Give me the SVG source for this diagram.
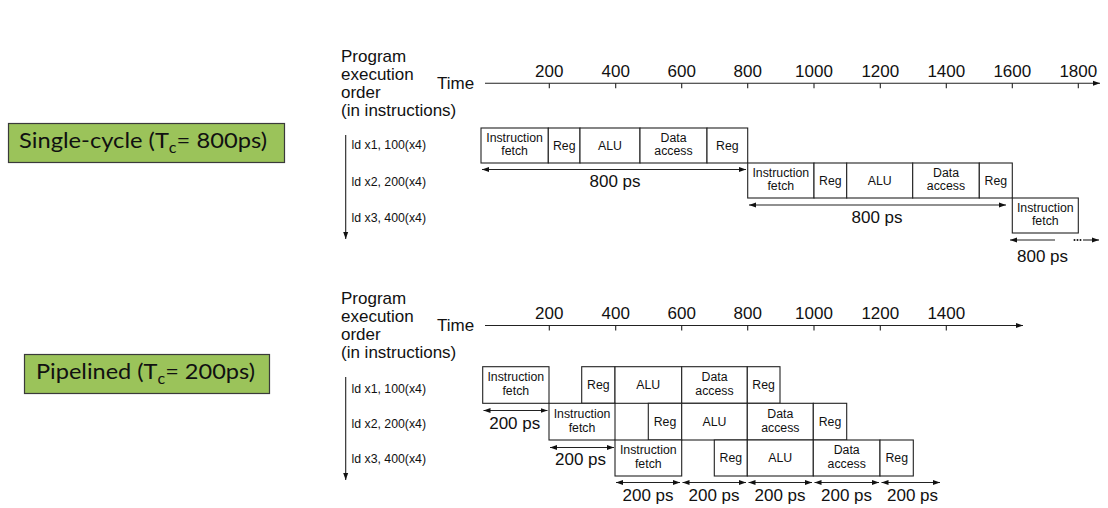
<svg xmlns="http://www.w3.org/2000/svg" width="1108" height="508" viewBox="0 0 1108 508">
<defs>
<marker id="ah" markerUnits="userSpaceOnUse" markerWidth="8" markerHeight="6" refX="7" refY="3" orient="auto-start-reverse"><path d="M0,0.5 L7,3 L0,5.5 z" fill="#111"/></marker>
<style>
.t{font-family:"Liberation Sans",Arial,sans-serif;fill:#111}
.lg{font-size:17px}
.sm{font-size:12.3px}
.bx{fill:#fff;stroke:#222;stroke-width:1.1}
.ln{stroke:#222;stroke-width:1.1;fill:none}
.ar{stroke:#222;stroke-width:1.1;fill:none;marker-start:url(#ah);marker-end:url(#ah)}
.ae{stroke:#222;stroke-width:1.1;fill:none;marker-end:url(#ah)}
.lab{fill:#9BC35A;stroke:#3a3a3a;stroke-width:1.2}
.lt{font-family:Lato,"Open Sans",sans-serif;font-size:22px;fill:#111}
</style>
</defs>
<rect width="1108" height="508" fill="#fff"/>

<g id="label-single">
<rect class="lab" x="8.5" y="123.5" width="276" height="39"/>
<text class="lt" x="19" y="147.5" textLength="248" lengthAdjust="spacingAndGlyphs">Single-cycle (T<tspan font-size="15" dy="5">c</tspan><tspan dy="-5">= 800ps)</tspan></text>
</g>
<g id="label-pipelined">
<rect class="lab" x="24.5" y="354.5" width="245" height="39"/>
<text class="lt" x="36" y="378.5" textLength="219" lengthAdjust="spacingAndGlyphs">Pipelined (T<tspan font-size="15" dy="5">c</tspan><tspan dy="-5">= 200ps)</tspan></text>
</g>

<g id="top-axis">
<text class="t lg" x="341" y="62">Program</text>
<text class="t lg" x="341" y="80">execution</text>
<text class="t lg" x="341" y="98">order</text>
<text class="t lg" x="341" y="116">(in instructions)</text>
<text class="t lg" x="437" y="88.5">Time</text>
<g text-anchor="middle">
<text class="t lg" x="549.3" y="77">200</text>
<text class="t lg" x="615.7" y="77">400</text>
<text class="t lg" x="681.7" y="77">600</text>
<text class="t lg" x="747.7" y="77">800</text>
<text class="t lg" x="814" y="77">1000</text>
<text class="t lg" x="880.3" y="77">1200</text>
<text class="t lg" x="946.3" y="77">1400</text>
<text class="t lg" x="1012.3" y="77">1600</text>
<text class="t lg" x="1078.3" y="77">1800</text>
</g>
<text class="t sm" x="351.5" y="149.3">ld x1, 100(x4)</text>
<text class="t sm" x="351.5" y="186">ld x2, 200(x4)</text>
<text class="t sm" x="351.5" y="222">ld x3, 400(x4)</text>
</g>

<g id="bottom-axis">
<text class="t lg" x="341" y="304">Program</text>
<text class="t lg" x="341" y="322">execution</text>
<text class="t lg" x="341" y="340">order</text>
<text class="t lg" x="341" y="358">(in instructions)</text>
<text class="t lg" x="437" y="330.5">Time</text>
<g text-anchor="middle">
<text class="t lg" x="549.3" y="319">200</text>
<text class="t lg" x="615.7" y="319">400</text>
<text class="t lg" x="681.7" y="319">600</text>
<text class="t lg" x="747.7" y="319">800</text>
<text class="t lg" x="814" y="319">1000</text>
<text class="t lg" x="880.3" y="319">1200</text>
<text class="t lg" x="946.3" y="319">1400</text>
</g>
<text class="t sm" x="351.5" y="392.5">ld x1, 100(x4)</text>
<text class="t sm" x="351.5" y="427.5">ld x2, 200(x4)</text>
<text class="t sm" x="351.5" y="463">ld x3, 400(x4)</text>
</g>

<g id="single-row1" class="t sm" text-anchor="middle">
<rect class="bx" x="481" y="128" width="67.3" height="35"/>
<text x="514.6" y="141.5">Instruction</text><text x="514.6" y="155">fetch</text>
<rect class="bx" x="548.3" y="128" width="31.7" height="35"/>
<text x="564.2" y="149.5">Reg</text>
<rect class="bx" x="580" y="128" width="60" height="35"/>
<text x="610" y="149.5">ALU</text>
<rect class="bx" x="640" y="128" width="67" height="35"/>
<text x="673.5" y="141.5">Data</text><text x="673.5" y="155">access</text>
<rect class="bx" x="707" y="128" width="40.7" height="35"/>
<text x="727.3" y="149.5">Reg</text>
</g>
<g id="single-row2" class="t sm" text-anchor="middle">
<rect class="bx" x="747.7" y="163" width="66.3" height="35"/>
<text x="780.8" y="176.5">Instruction</text><text x="780.8" y="190">fetch</text>
<rect class="bx" x="814" y="163" width="32.7" height="35"/>
<text x="830.3" y="184.5">Reg</text>
<rect class="bx" x="846.7" y="163" width="66" height="35"/>
<text x="879.7" y="184.5">ALU</text>
<rect class="bx" x="912.7" y="163" width="66.6" height="35"/>
<text x="946" y="176.5">Data</text><text x="946" y="190">access</text>
<rect class="bx" x="979.3" y="163" width="33" height="35"/>
<text x="995.8" y="184.5">Reg</text>
</g>
<g id="single-row3" class="t sm" text-anchor="middle">
<rect class="bx" x="1012.3" y="198" width="66" height="35"/>
<text x="1045.3" y="211.5">Instruction</text><text x="1045.3" y="225">fetch</text>
</g>

<g id="pipe-row1" class="t sm" text-anchor="middle">
<rect class="bx" x="482.7" y="366.7" width="66.3" height="36.6"/>
<text x="515.8" y="381">Instruction</text><text x="515.8" y="395">fetch</text>
<rect class="bx" x="581.7" y="366.7" width="33.3" height="36.6"/>
<text x="598.3" y="389">Reg</text>
<rect class="bx" x="615" y="366.7" width="66.7" height="36.6"/>
<text x="648.3" y="389">ALU</text>
<rect class="bx" x="681.7" y="366.7" width="65.6" height="36.6"/>
<text x="714.5" y="381">Data</text><text x="714.5" y="395">access</text>
<rect class="bx" x="747.3" y="366.7" width="32.7" height="36.6"/>
<text x="763.6" y="389">Reg</text>
</g>
<g id="pipe-row2" class="t sm" text-anchor="middle">
<rect class="bx" x="549" y="403.3" width="66" height="36.7"/>
<text x="582" y="417.5">Instruction</text><text x="582" y="431.5">fetch</text>
<rect class="bx" x="648.3" y="403.3" width="33.4" height="36.7"/>
<text x="665" y="425.5">Reg</text>
<rect class="bx" x="681.7" y="403.3" width="65.6" height="36.7"/>
<text x="714.5" y="425.5">ALU</text>
<rect class="bx" x="747.3" y="403.3" width="66" height="36.7"/>
<text x="780.3" y="417.5">Data</text><text x="780.3" y="431.5">access</text>
<rect class="bx" x="813.3" y="403.3" width="33.4" height="36.7"/>
<text x="830" y="425.5">Reg</text>
</g>
<g id="pipe-row3" class="t sm" text-anchor="middle">
<rect class="bx" x="615" y="440" width="66.7" height="36"/>
<text x="648.3" y="454">Instruction</text><text x="648.3" y="468">fetch</text>
<rect class="bx" x="714.3" y="440" width="33" height="36"/>
<text x="730.8" y="462">Reg</text>
<rect class="bx" x="747.3" y="440" width="66" height="36"/>
<text x="780.3" y="462">ALU</text>
<rect class="bx" x="813.3" y="440" width="66.7" height="36"/>
<text x="846.7" y="454">Data</text><text x="846.7" y="468">access</text>
<rect class="bx" x="880" y="440" width="33.3" height="36"/>
<text x="896.7" y="462">Reg</text>
</g>

<g id="connectors">
<line class="ae" x1="485" y1="83.3" x2="1100" y2="83.3"/>
<path class="ln" d="M549.3,83.3V88.3M615.7,83.3V88.3M681.7,83.3V88.3M747.7,83.3V88.3M814,83.3V88.3M880.3,83.3V88.3M946.3,83.3V88.3M1012.3,83.3V88.3M1078.3,83.3V88.3"/>
<line class="ae" x1="345.7" y1="135" x2="345.7" y2="239"/>
<line class="ar" x1="482" y1="169.5" x2="746" y2="169.5"/>
<line class="ar" x1="749" y1="205" x2="1006" y2="205"/>
<line class="ln" x1="1010" y1="240" x2="1055" y2="240" style="marker-start:url(#ah)"/>
<g fill="#111"><circle cx="1074.5" cy="240" r="1"/><circle cx="1077.5" cy="240" r="1"/><circle cx="1080.5" cy="240" r="1"/></g>
<line class="ae" x1="1083" y1="240" x2="1099" y2="240"/>

<line class="ae" x1="485" y1="325.5" x2="1023" y2="325.5"/>
<path class="ln" d="M549.3,325.5V330.5M615.7,325.5V330.5M681.7,325.5V330.5M747.7,325.5V330.5M814,325.5V330.5M880.3,325.5V330.5M946.3,325.5V330.5"/>
<line class="ae" x1="345.7" y1="377" x2="345.7" y2="480"/>
<line class="ar" x1="483.5" y1="410.5" x2="547.5" y2="410.5"/>
<line class="ar" x1="550" y1="447.5" x2="614" y2="447.5"/>
<line class="ar" x1="616" y1="482.5" x2="680" y2="482.5"/>
<line class="ar" x1="682.5" y1="482.5" x2="746" y2="482.5"/>
<line class="ar" x1="748.5" y1="482.5" x2="812" y2="482.5"/>
<line class="ar" x1="814.5" y1="482.5" x2="879" y2="482.5"/>
<line class="ar" x1="881.5" y1="482.5" x2="940" y2="482.5"/>
</g>

<g id="durations" class="t lg" text-anchor="middle">
<text x="615" y="187">800 ps</text>
<text x="877" y="223">800 ps</text>
<text x="1042.5" y="262">800 ps</text>
<text x="514.7" y="428.5">200 ps</text>
<text x="580.5" y="465">200 ps</text>
<text x="648" y="500.5">200 ps</text>
<text x="714" y="500.5">200 ps</text>
<text x="780" y="500.5">200 ps</text>
<text x="846.5" y="500.5">200 ps</text>
<text x="912.5" y="500.5">200 ps</text>
</g>
</svg>
